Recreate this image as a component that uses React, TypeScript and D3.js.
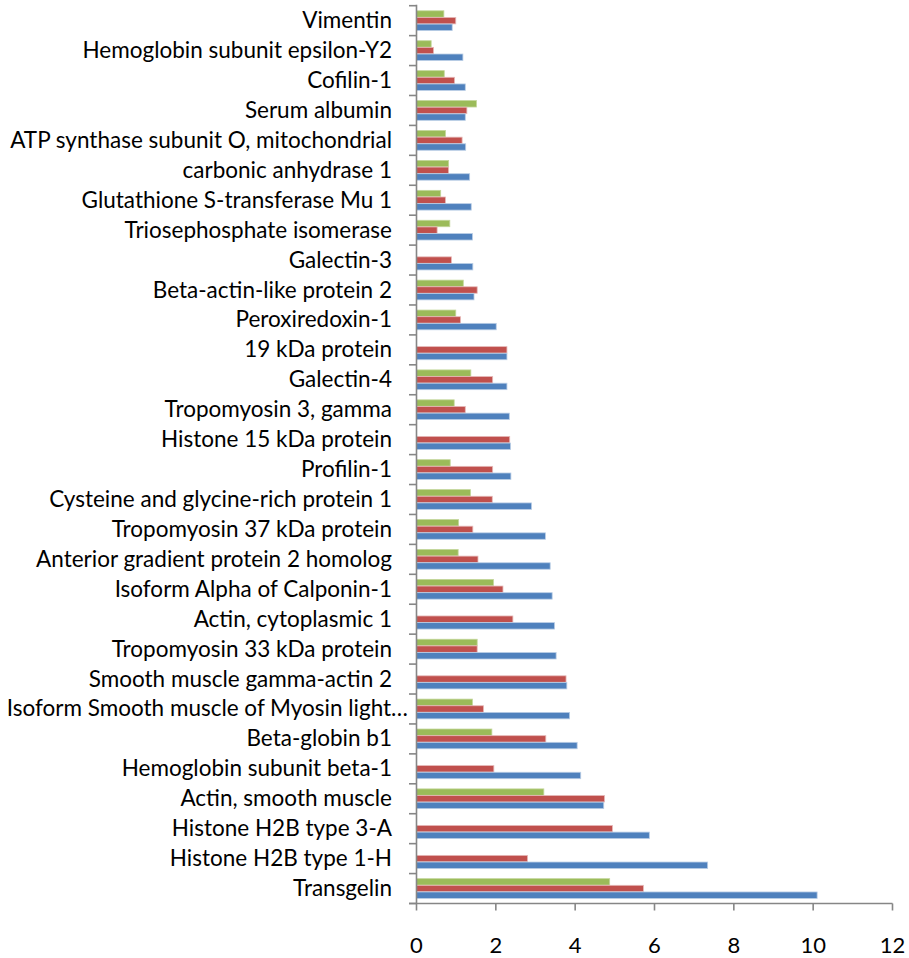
import React from 'react'
import * as d3 from 'd3'

// proteins, listed from the bottom of the chart to the top
const categories = [
  'Transgelin',
  'Histone H2B type 1-H',
  'Histone H2B type 3-A',
  'Actin, smooth muscle',
  'Hemoglobin subunit beta-1',
  'Beta-globin b1',
  'Isoform Smooth muscle of Myosin light…',
  'Smooth muscle gamma-actin 2',
  'Tropomyosin 33 kDa protein',
  'Actin, cytoplasmic 1',
  'Isoform Alpha of Calponin-1',
  'Anterior gradient protein 2 homolog',
  'Tropomyosin 37 kDa protein',
  'Cysteine and glycine-rich protein 1',
  'Profilin-1',
  'Histone 15 kDa protein',
  'Tropomyosin 3, gamma',
  'Galectin-4',
  '19 kDa protein',
  'Peroxiredoxin-1',
  'Beta-actin-like protein 2',
  'Galectin-3',
  'Triosephosphate isomerase',
  'Glutathione S-transferase Mu 1',
  'carbonic anhydrase 1',
  'ATP synthase subunit O, mitochondrial',
  'Serum albumin',
  'Cofilin-1',
  'Hemoglobin subunit epsilon-Y2',
  'Vimentin'
]

const blueValues = [10.1, 7.34, 5.87, 4.72, 4.14, 4.05, 3.86, 3.79, 3.52, 3.48, 3.42, 3.37, 3.25, 2.9, 2.38, 2.37, 2.34, 2.28, 2.28, 2.01, 1.45, 1.42, 1.41, 1.38, 1.34, 1.24, 1.23, 1.23, 1.17, 0.9]
const redValues = [5.72, 2.8, 4.94, 4.74, 1.95, 3.26, 1.69, 3.77, 1.53, 2.43, 2.18, 1.55, 1.42, 1.91, 1.92, 2.35, 1.23, 1.92, 2.28, 1.11, 1.53, 0.88, 0.52, 0.73, 0.81, 1.15, 1.27, 0.96, 0.43, 0.99]
const greenValues = [4.87, 0, 0, 3.21, 0, 1.9, 1.41, 0, 1.53, 0, 1.94, 1.05, 1.06, 1.36, 0.85, 0, 0.95, 1.37, 0, 0.99, 1.18, 0, 0.84, 0.61, 0.81, 0.73, 1.51, 0.7, 0.37, 0.69]

const xTicks = [0, 2, 4, 6, 8, 10, 12]

const W = 909
const H = 958
const left = 416.5
const right = 892.5
const top = 5.7
const bottom = 903.5

const series = [
  { key: 'green', values: greenValues, fill: '#9BBB59', edge: '#C3D69B' },
  { key: 'red', values: redValues, fill: '#C0504D', edge: '#E6B9B8' },
  { key: 'blue', values: blueValues, fill: '#4F81BD', edge: '#B9CDE5' }
]

const font = 'Lato, "Open Sans", sans-serif'
const axisColor = '#868686'

export default function App () {
  const x = d3.scaleLinear().domain([0, 12]).range([left, right])
  const y = d3.scaleBand<string>()
    .domain(categories)
    .range([bottom, top])
    .paddingInner(0.34)
    .paddingOuter(0.17)
  const inner = d3.scaleBand<string>()
    .domain(series.map(s => s.key))
    .range([0, y.bandwidth()])
    .paddingInner(0.03)
  const step = y.step()
  const edges = d3.range(categories.length + 1).map(i => bottom - i * step)

  return (
    <svg width={W} height={H} style={{ position: 'absolute', left: 0, top: 0, background: '#fff' }}>
      {/* bars */}
      {categories.map((c, i) => (
        <g key={c}>
          {series.map(s => {
            const v = s.values[i]
            if (!v) return null
            return (
              <rect
                key={s.key}
                x={x(0)}
                y={(y(c) as number) + (inner(s.key) as number)}
                width={x(v) - x(0)}
                height={inner.bandwidth()}
                fill={s.fill}
                stroke={s.edge}
                strokeWidth={0.8}
              />
            )
          })}
        </g>
      ))}

      {/* y axis */}
      <line x1={left} x2={left} y1={top - 1} y2={bottom} stroke={axisColor} strokeWidth={1.6} />
      {edges.map((e, i) => (
        <line key={i} x1={left - 7.5} x2={left} y1={e} y2={e} stroke={axisColor} strokeWidth={1.6} />
      ))}
      {categories.map(c => (
        <text
          key={c}
          x={c.endsWith('…') ? 408 : 392}
          y={(y(c) as number) + y.bandwidth() / 2 + 7.5}
          textAnchor='end'
          fontFamily={font}
          fontSize={22.5}
          fill='#000'
        >{c}</text>
      ))}

      {/* x axis */}
      <line x1={left - 7.5} x2={right} y1={bottom} y2={bottom} stroke={axisColor} strokeWidth={1.6} />
      {xTicks.map(t => (
        <g key={t}>
          <line x1={x(t)} x2={x(t)} y1={bottom} y2={bottom + 7} stroke={axisColor} strokeWidth={1.6} />
          <text x={x(t)} y={953} textAnchor='middle' fontFamily={font} fontSize={22} fill='#000'>{t}</text>
        </g>
      ))}
    </svg>
  )
}
